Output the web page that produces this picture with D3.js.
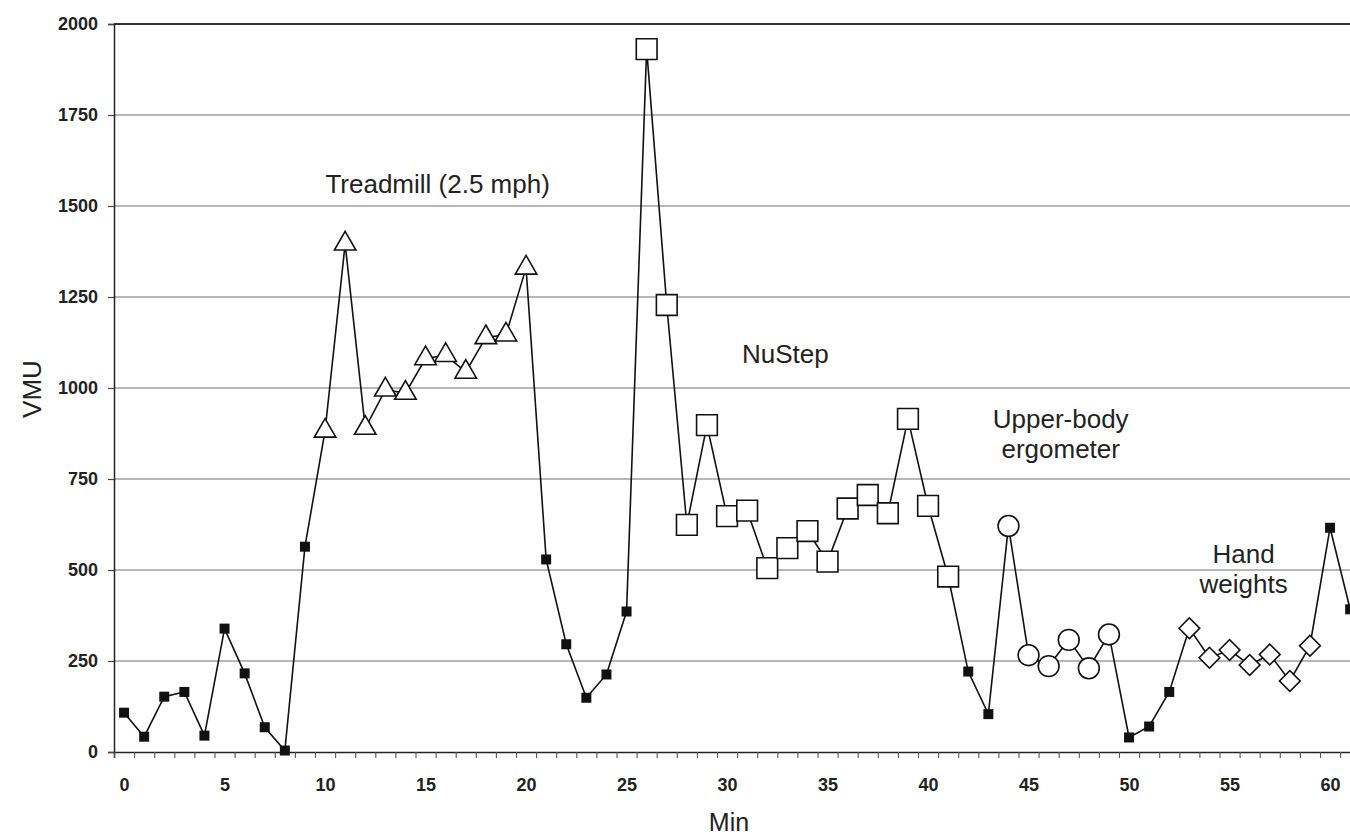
<!DOCTYPE html>
<html><head><meta charset="utf-8">
<script src="https://cdn.jsdelivr.net/npm/d3@7"></script>
<style>body{margin:0;background:#fff}svg{display:block}</style>
</head><body>
<svg id="c" width="1350" height="840"></svg>
<script>
const minutes = d3.range(0, 62);
const vmu = [108, 42, 152, 165, 45, 339, 216, 68, 4, 564,
  882, 1396, 890, 995, 986, 1081, 1090, 1044, 1139, 1146,
  1330, 529, 296, 149, 213, 386, 1931, 1228, 624, 898,
  648, 663, 505, 560, 607, 523, 669, 706, 656, 915,
  676, 482, 221, 104, 621, 266, 236, 308, 230, 323,
  40, 70, 165, 340, 259, 280, 239, 268, 195, 292,
  616, 392];
// marker type per minute: rest (filled square), treadmill (triangle), nustep (open square), ube (circle), hand (diamond)
const activity = [
  "rest","rest","rest","rest","rest","rest","rest","rest","rest","rest",
  "treadmill","treadmill","treadmill","treadmill","treadmill","treadmill","treadmill","treadmill","treadmill","treadmill",
  "treadmill","rest","rest","rest","rest","rest","nustep","nustep","nustep","nustep",
  "nustep","nustep","nustep","nustep","nustep","nustep","nustep","nustep","nustep","nustep",
  "nustep","nustep","rest","rest","ube","ube","ube","ube","ube","ube",
  "rest","rest","rest","hand","hand","hand","hand","hand","hand","hand",
  "rest","rest"];
const yTicks = [0, 250, 500, 750, 1000, 1250, 1500, 1750, 2000];
const xTickLabels = [0, 5, 10, 15, 20, 25, 30, 35, 40, 45, 50, 55, 60];
const annotations = [
  {lines: ["Treadmill (2.5 mph)"], m: 15.6, v: 1535},
  {lines: ["NuStep"], m: 32.9, v: 1070},
  {lines: ["Upper-body", "ergometer"], m: 46.6, v: 890},
  {lines: ["Hand", "weights"], m: 55.7, v: 519}
];

const svg = d3.select("#c");
const left = 114, step = 20.1;
const x = d3.scaleLinear().domain([-0.5, 61.5]).range([left, left + 62 * step]);
const y = d3.scaleLinear().domain([0, 2000]).range([752, 24]);
const font = "'Liberation Sans', Arial, sans-serif";

// gridlines
svg.append("g").selectAll("line").data(yTicks.filter(d => d > 0)).join("line")
  .attr("x1", left).attr("x2", 1360)
  .attr("y1", d => y(d)).attr("y2", d => y(d))
  .attr("stroke", d => d === 2000 ? "#333" : "#707070")
  .attr("stroke-width", d => d === 2000 ? 1.8 : 1.2);

// y axis
const yAxis = svg.append("g").attr("transform", `translate(${left},0)`)
  .call(d3.axisLeft(y).tickValues(yTicks).tickSize(6).tickPadding(10).tickFormat(d3.format("d")));
yAxis.select(".domain").attr("stroke", "#222").attr("stroke-width", 1.5);
yAxis.selectAll(".tick line").attr("stroke", "#444").attr("stroke-width", 1.2);
yAxis.selectAll("text").attr("font-family", font).attr("font-weight", "bold")
  .attr("font-size", 18).attr("fill", "#222");

// x axis: ticks at category boundaries
const xb = svg.append("g").attr("transform", `translate(0,${y(0)})`)
  .call(d3.axisBottom(x).tickValues(d3.range(-0.5, 62, 1)).tickSize(6).tickFormat(""));
xb.select(".domain").attr("stroke", "#222").attr("stroke-width", 1.6);
xb.selectAll(".tick line").attr("stroke", "#555").attr("stroke-width", 1.1);
const xl = svg.append("g").attr("transform", `translate(0,${y(0)})`)
  .call(d3.axisBottom(x).tickValues(xTickLabels).tickSize(0).tickPadding(26).tickFormat(d3.format("d")));
xl.select(".domain").remove();
xl.selectAll("text").attr("font-family", font).attr("font-weight", "bold")
  .attr("font-size", 18).attr("fill", "#222");

// axis titles
svg.append("text").attr("transform", `translate(41,${y(1000) + 1}) rotate(-90)`)
  .attr("text-anchor", "middle").attr("font-family", font).attr("font-size", 26).attr("fill", "#222").text("VMU");
svg.append("text").attr("x", 729).attr("y", 831)
  .attr("text-anchor", "middle").attr("font-family", font).attr("font-size", 25).attr("fill", "#222").text("Min");

// line
const pts = minutes.map((m, i) => ({m, v: vmu[i], a: activity[i]}));
svg.append("path").datum(pts)
  .attr("d", d3.line().x(d => x(d.m)).y(d => y(d.v)))
  .attr("fill", "none").attr("stroke", "#111").attr("stroke-width", 1.6);

// markers
const sym = {
  rest: d3.symbolSquare, treadmill: d3.symbolTriangle, nustep: d3.symbolSquare,
  ube: d3.symbolCircle, hand: d3.symbolSquare
};
const size = {rest: 100, treadmill: 200, nustep: 430, ube: 340, hand: 215};
svg.append("g").selectAll("path").data(pts).join("path")
  .attr("transform", d => `translate(${x(d.m)},${y(d.v)})` + (d.a === "hand" ? " rotate(45)" : ""))
  .attr("d", d => d3.symbol().type(sym[d.a]).size(size[d.a])())
  .attr("fill", d => d.a === "rest" ? "#111" : "#fff")
  .attr("stroke", "#111").attr("stroke-width", d => d.a === "rest" ? 0 : 1.6);

// annotations
annotations.forEach(a => {
  const t = svg.append("text").attr("x", x(a.m)).attr("y", y(a.v))
    .attr("text-anchor", "middle").attr("font-family", font).attr("font-size", 26).attr("fill", "#222");
  a.lines.forEach((l, i) => t.append("tspan").attr("x", x(a.m)).attr("dy", i ? 30 : 0).text(l));
});
</script>
</body></html>
